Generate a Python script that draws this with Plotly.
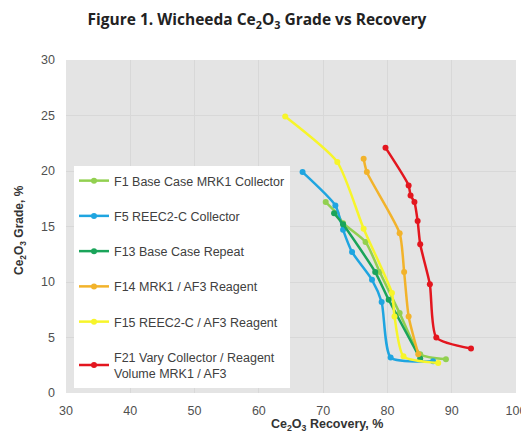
import plotly.graph_objects as go

names = [
    "F1 Base Case MRK1 Collector",
    "F5 REEC2-C Collector",
    "F13 Base Case Repeat",
    "F14 MRK1 / AF3 Reagent",
    "F15 REEC2-C / AF3 Reagent",
    "F21 Vary Collector / Reagent<br>Volume MRK1 / AF3",
]
colors = ["#92d050", "#1fa5e0", "#1aa45a", "#f2b32b", "#f7f52a", "#e3161f"]

f1_rec = [70.4, 72.1, 73.1, 76.6, 78.8, 81.9, 85.1, 89.1]
f1_grade = [17.2, 16.2, 15.3, 13.6, 10.9, 7.2, 3.5, 3.05]

f5_rec = [66.8, 71.9, 73.1, 74.5, 77.6, 79.1, 80.5, 87.1]
f5_grade = [19.9, 16.9, 14.7, 12.7, 10.2, 8.2, 3.2, 2.85]

f13_rec = [71.7, 73.1, 78.1, 80.2, 85.1]
f13_grade = [16.2, 15.2, 10.9, 8.4, 3.1]

f14_rec = [76.3, 76.8, 81.9, 82.6, 83.3, 84.8]
f14_grade = [21.1, 19.9, 14.4, 10.9, 6.9, 3.5]

f15_rec = [64.1, 72.2, 76.3, 80.7, 81.1, 82.5, 87.9]
f15_grade = [24.9, 20.8, 14.8, 9.0, 6.9, 3.3, 2.7]

f21_rec = [79.7, 83.3, 83.6, 84.2, 84.7, 85.1, 86.6, 87.6, 93.0]
f21_grade = [22.1, 18.7, 17.8, 17.2, 15.5, 13.4, 9.8, 5.0, 4.0]

series = [
    (f1_rec, f1_grade),
    (f5_rec, f5_grade),
    (f13_rec, f13_grade),
    (f14_rec, f14_grade),
    (f15_rec, f15_grade),
    (f21_rec, f21_grade),
]

x_ticks = [30, 40, 50, 60, 70, 80, 90, 100]
y_ticks = [0, 5, 10, 15, 20, 25, 30]

fig = go.Figure()
for i, ((xs, ys), name, col) in enumerate(zip(series, names, colors)):
    fig.add_trace(go.Scatter(
        x=xs, y=ys, name=name, mode="lines+markers",
        line=dict(color=col, width=2.5, shape="spline", smoothing=0.6),
        marker=dict(color=col, size=6),
        legendgroup=f"g{i}",
    ))

# The page body adds an 8px offset, so the figure is sized 8px smaller.
W, H = 521, 430
font = "Liberation Sans, Arial, sans-serif"
fig.update_layout(
    width=W, height=H,
    margin=dict(l=58, r=13, t=52, b=45, autoexpand=False),
    paper_bgcolor="white",
    plot_bgcolor="#e4e4e4",
    font=dict(family=font, size=12, color="#505050"),
    title=dict(
        text="<b>Figure 1. Wicheeda Ce<sub>2</sub>O<sub>3</sub> Grade vs Recovery</b>",
        x=249 / W, xanchor="center", xref="container", y=1 - 12 / H, yanchor="middle",
        font=dict(family="Open Sans, sans-serif", size=15.5, color="#222222"),
    ),
    xaxis=dict(
        range=[30, 100], tickvals=x_ticks, showgrid=True, gridcolor="#d8d8d8",
        gridwidth=1, zeroline=False, showline=False, ticks="",
        tickfont=dict(size=12.5, color="#505050"), automargin=False,
        ticklabelstandoff=8,
    ),
    yaxis=dict(
        range=[0, 30], tickvals=y_ticks, showgrid=True, gridcolor="#d8d8d8",
        gridwidth=1, zeroline=False, showline=False, ticks="",
        tickfont=dict(size=12.5, color="#505050"), automargin=False,
        ticklabelstandoff=10,
    ),
    legend=dict(
        x=(74 - 66) / 450, y=(393 - 166) / 333, xanchor="left", yanchor="top",
        bgcolor="white", borderwidth=0,
        font=dict(size=12.5, color="#404040"),
        tracegroupgap=16, traceorder="grouped",
        itemwidth=30,
    ),
    showlegend=True,
)
fig.add_annotation(
    text="<b>Ce<sub>2</sub>O<sub>3</sub> Recovery, %</b>",
    x=(327 - 66) / 450, xref="paper", y=-(425 - 393) / 333, yref="paper",
    showarrow=False, font=dict(size=12.5, color="#333333"),
    xanchor="center", yanchor="middle",
)
fig.add_annotation(
    text="<b>Ce<sub>2</sub>O<sub>3</sub> Grade, %</b>",
    x=(20 - 66) / 450, xref="paper", y=(393 - 230) / 333, yref="paper",
    showarrow=False, textangle=-90, font=dict(size=12, color="#333333"),
    xanchor="center", yanchor="middle",
)

fig.write_html("out.html")
